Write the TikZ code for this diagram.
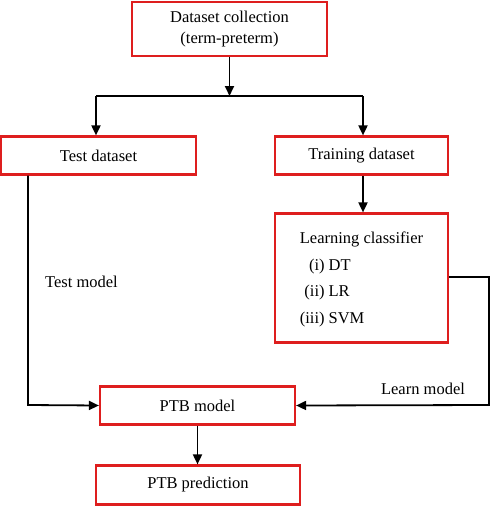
\documentclass[tikz,border=0pt]{standalone}
\usepackage{fontspec}
\setmainfont{Liberation Serif}
\usetikzlibrary{arrows.meta}
\begin{document}
\begin{tikzpicture}[x=1pt,y=-1pt,
  box/.style={draw=boxred,line width=2.2pt,fill=white,inner sep=0pt,font=\fontsize{16.5}{21}\selectfont,align=center},
  conn/.style={line width=1.8pt,draw=black},
  arr/.style={conn,-{Triangle[length=10pt,width=9pt]}},
  lbl/.style={font=\fontsize{16.5}{20}\selectfont,inner sep=0pt}]
\definecolor{boxred}{RGB}{222,30,30}
\useasboundingbox (0,0) rectangle (490,506);
\node[box,minimum width=195pt,minimum height=54pt] (top) at (229.5,29) {Dataset collection\\(term-preterm)};
\node[box,minimum width=195pt,minimum height=38pt] (test) at (98.5,155.5) {Test dataset};
\node[box,minimum width=173pt,minimum height=38pt] (train) at (361.5,155.5) {Training dataset};
\node[box,minimum width=173pt,minimum height=129pt,font=\fontsize{16.5}{26.5}\selectfont] (learn) at (361.5,278) {%
  \begin{tabular}{@{}l@{}}Learning classifier\\
  \begin{tabular}{@{}r@{\hspace{4pt}}l@{}}(i)&DT\\(ii)&LR\\(iii)&SVM\end{tabular}\end{tabular}};
\node[box,minimum width=195pt,minimum height=38pt] (model) at (197.5,405.5) {PTB model};
\node[box,minimum width=204pt,minimum height=39pt] (pred) at (198,485) {PTB prediction};
\coordinate (split) at (229.5,96);
\coordinate (lsplit) at (96,96);
\coordinate (rsplit) at (363,96);
\coordinate (tcorner) at (28,405);
\coordinate (rcorner1) at (489,277);
\coordinate (rcorner2) at (489,405);
\draw[arr] (top.south -| split) -- (split);
\draw[conn] (lsplit) -- (rsplit);
\draw[arr] (lsplit) -- (lsplit |- test.north);
\draw[arr] (rsplit) -- (rsplit |- train.north);
\draw[arr] (train.south -| rsplit) -- (learn.north -| rsplit);
\draw[arr] (test.south -| tcorner) -- (tcorner) -- (model.west);
\draw[arr] (learn.east |- rcorner1) -- (rcorner1) -- (rcorner2) -- (model.east);
\draw[arr] (model.south) -- (pred.north -| model.south);
\node[lbl,anchor=west] (tm) at (45,282) {Test model};
\node[lbl] (lm) at (423,389) {Learn model};
\end{tikzpicture}
\end{document}
